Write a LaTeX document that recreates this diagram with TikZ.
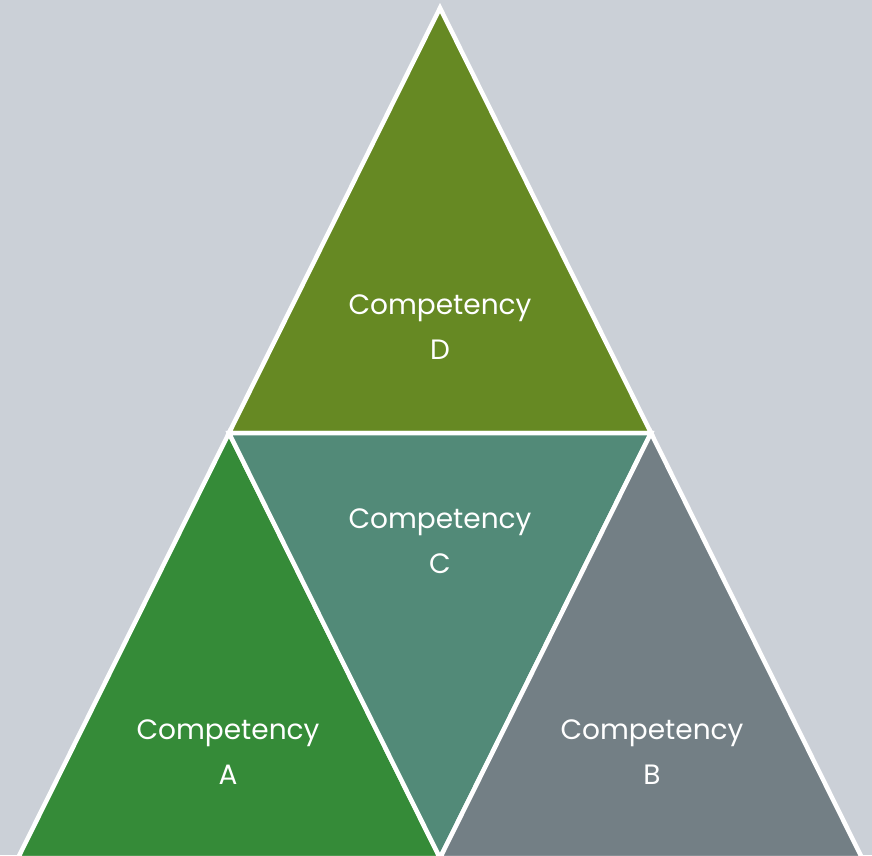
\documentclass[tikz,border=0pt]{standalone}
\usepackage{fontspec}
\setmainfont{Poppins}
\usetikzlibrary{calc}
\definecolor{bgpaper}{HTML}{CBD0D7}
\definecolor{compA}{HTML}{358B38}
\definecolor{compB}{HTML}{737F85}
\definecolor{compC}{HTML}{528A78}
\definecolor{compD}{HTML}{668923}
\begin{document}
\begin{tikzpicture}[x=1pt,y=-1pt,
  part/.style={fill=#1,draw=white,line width=4.5pt,line join=miter},
  lbl/.style={text=white,align=center,font=\fontsize{28}{45}\selectfont}]
        \fill[bgpaper] (0,0) rectangle (872,855);
        \useasboundingbox (0,0) rectangle (872,855);
        \coordinate (T) at (440,8);
        \coordinate (L) at (18,858);
        \coordinate (R) at (862,858);
        \coordinate (ML) at ($(T)!0.5!(L)$);
        \coordinate (MR) at ($(T)!0.5!(R)$);
        \coordinate (MB) at ($(L)!0.5!(R)$);
        \begin{scope}
        \clip (0,0) rectangle (872,855);
        \draw[part=compD] (T) -- (ML) -- (MR) -- cycle;
        \draw[part=compA] (ML) -- (L) -- (MB) -- cycle;
        \draw[part=compC] (ML) -- (MR) -- (MB) -- cycle;
        \draw[part=compB] (MR) -- (MB) -- (R) -- cycle;
        \end{scope}
        \node[lbl] (D) at (440,327) {Competency\\D};
        \node[lbl] (C) at (440,541) {Competency\\C};
        \node[lbl] (A) at (228,752) {Competency\\A};
        \node[lbl] (B) at (652,752) {Competency\\B};
    \end{tikzpicture}
\end{document}
